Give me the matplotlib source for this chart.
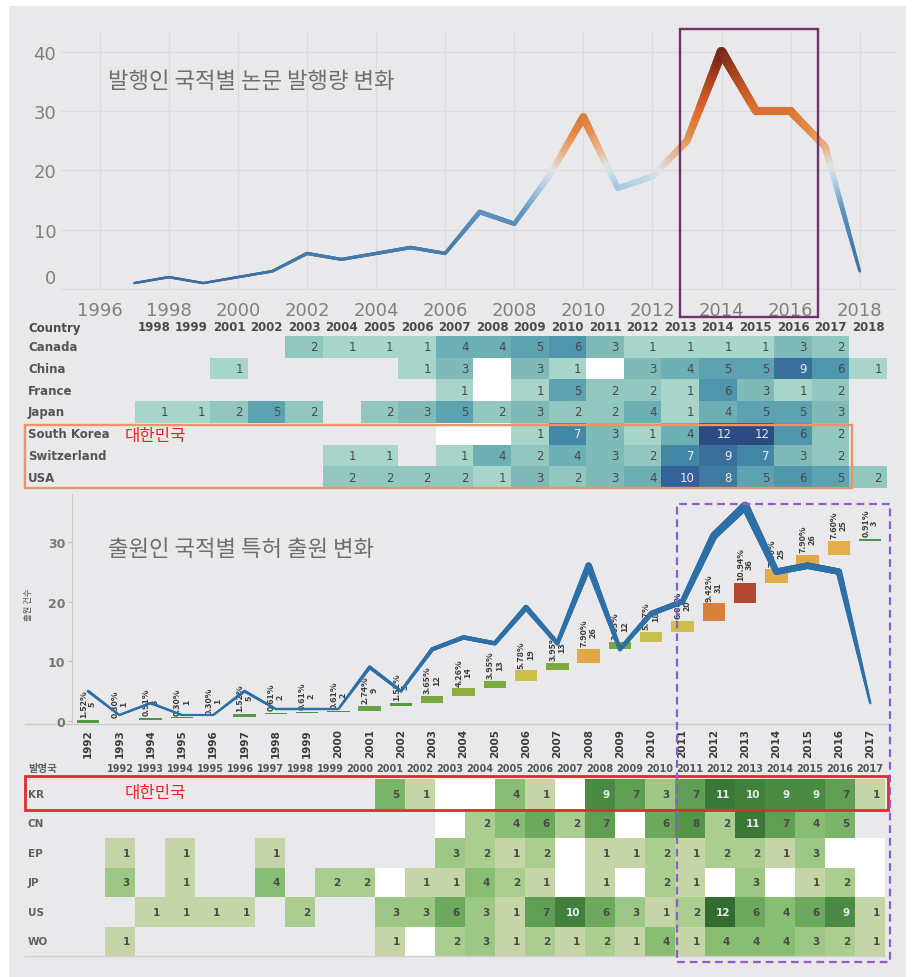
# Paper and patent output by country: two line charts with heatmaps

import numpy as np
import matplotlib
matplotlib.use('Agg')
import matplotlib.pyplot as plt
import matplotlib.transforms as mtransforms
from matplotlib.collections import LineCollection
from matplotlib.colors import LinearSegmentedColormap, Normalize
from matplotlib.patches import Rectangle

plt.rcParams['font.family'] = ['DejaVu Sans', 'Noto Sans CJK KR']
KR_FONT = ['Noto Sans CJK KR', 'DejaVu Sans']

# -------------------------------
# Data
# -------------------------------

# papers per year (publisher nationality)
paper_years = list(range(1997, 2019))
paper_counts = [1, 2, 1, 2, 3, 6, 5, 6, 7, 6, 13, 11, 19, 29, 17, 19, 25, 40, 30, 30, 24, 3]

# papers by country (None = no record, 0 = empty cell)
N = None
paper_cols = [1998, 1999] + list(range(2001, 2019))
paper_countries = ['Canada', 'China', 'France', 'Japan', 'South Korea', 'Switzerland', 'USA']
canada = [N, N, N, N, 2, 1, 1, 1, 4, 4, 5, 6, 3, 1, 1, 1, 1, 3, 2, N]
china = [N, N, 1, N, N, N, N, 1, 3, 0, 3, 1, 0, 3, 4, 5, 5, 9, 6, 1]
france = [N, N, N, N, N, N, N, N, 1, 0, 1, 5, 2, 2, 1, 6, 3, 1, 2, N]
japan = [1, 1, 2, 5, 2, N, 2, 3, 5, 2, 3, 2, 2, 4, 1, 4, 5, 5, 3, N]
south_korea = [N, N, N, N, N, N, N, N, 0, 0, 1, 7, 3, 1, 4, 12, 12, 6, 2, N]
switzerland = [N, N, N, N, N, 1, 1, N, 1, 4, 2, 4, 3, 2, 7, 9, 7, 3, 2, N]
usa = [N, N, N, N, N, 2, 2, 2, 2, 1, 3, 2, 3, 4, 10, 8, 5, 6, 5, 2]
paper_table = [canada, china, france, japan, south_korea, switzerland, usa]

# patent filings per year (applicant nationality)
patent_years = list(range(1992, 2018))
patent_counts = [5, 1, 3, 1, 1, 5, 2, 2, 2, 9, 5, 12, 14, 13, 19, 13, 26, 12, 18, 20,
                 31, 36, 25, 26, 25, 3]

# patents by filing office
patent_offices = ['KR', 'CN', 'EP', 'JP', 'US', 'WO']
kr = [N] * 9 + [5, 1, 0, 0, 4, 1, 0, 9, 7, 3, 7, 11, 10, 9, 9, 7, 1]
cn = [N] * 11 + [0, 2, 4, 6, 2, 7, 0, 6, 8, 2, 11, 7, 4, 5, N]
ep = [1, N, 1, N, N, 1, N, N, N, N, N, 3, 2, 1, 2, 0, 1, 1, 2, 1, 2, 2, 1, 3, 0, 0]
jp = [3, N, 1, N, N, 4, N, 2, 2, 0, 1, 1, 4, 2, 1, 0, 1, 0, 2, 1, 0, 3, 0, 1, 2, 0]
us = [N, 1, 1, 1, 1, N, 2, N, N, 3, 3, 6, 3, 1, 7, 10, 6, 3, 1, 2, 12, 6, 4, 6, 9, 1]
wo = [1, N, N, N, N, N, N, N, N, 1, 0, 2, 3, 1, 2, 1, 2, 1, 4, 1, 4, 4, 4, 3, 2, 1]
patent_table = [kr, cn, ep, jp, us, wo]

# -------------------------------
# Figure setup
# -------------------------------
W, H = 914, 978
BG = '#e9e9eb'
fig = plt.figure(figsize=(W / 100, H / 100), dpi=100)
fig.patch.set_facecolor('white')
fig.add_artist(Rectangle((9 / W, 0), 897 / W, 1 - 7 / H, transform=fig.transFigure,
                         facecolor=BG, edgecolor='none', zorder=-10))


def px_box(l, t, r, b):
    return [l / W, 1 - b / H, (r - l) / W, (b - t) / H]


def varying_line(ax, x, y, colors_of, widths_of, steps=40, zorder=3):
    # split the polyline into short pieces so colour and width can follow the value
    xs, ys = [], []
    for i in range(len(x) - 1):
        t = np.linspace(0, 1, steps, endpoint=False)
        xs.append(x[i] + (x[i + 1] - x[i]) * t)
        ys.append(y[i] + (y[i + 1] - y[i]) * t)
    xs.append([x[-1]])
    ys.append([y[-1]])
    xs, ys = np.concatenate(xs), np.concatenate(ys)
    pts = np.column_stack([xs, ys])
    segs = np.stack([pts[:-1], pts[1:]], axis=1)
    mid = (ys[:-1] + ys[1:]) / 2
    lc = LineCollection(segs, colors=colors_of(mid), linewidths=widths_of(mid),
                        capstyle='round', joinstyle='round', zorder=zorder)
    ax.add_collection(lc)


def to_array(table):
    return np.array([[np.nan if v is None else v for v in row] for row in table], dtype=float)


def draw_heatmap(ax, table, cmap, vmax, white_from, num_x, num_size, num_weight):
    arr = to_array(table)
    ax.pcolormesh(np.ma.masked_invalid(arr), cmap=cmap, vmin=0, vmax=vmax)
    nrows, ncols = arr.shape
    for r in range(nrows):
        for c in range(ncols):
            v = table[r][c]
            if v:
                ax.text(c + num_x, r + 0.5, str(v), ha='right', va='center',
                        fontsize=num_size, fontweight=num_weight,
                        color='#e4ecf0' if v >= white_from else '#4a4a4a')
    ax.set_xlim(0, ncols)
    ax.set_ylim(nrows, 0)
    ax.set_facecolor('none')
    for s in ax.spines.values():
        s.set_visible(False)
    ax.set_yticks([])


# -------------------------------
# Papers: line chart
# -------------------------------
ax1 = fig.add_axes(px_box(61, 33, 896, 291))
ax1.set_facecolor('none')
ax1.set_xlim(1994.88, 2019.05)
ax1.set_ylim(-0.17, 43.37)
ax1.set_xticks(range(1996, 2019, 2))
ax1.set_yticks([0, 10, 20, 30, 40], ['', '10', '20', '30', '40'])
ax1.grid(color='#dcdcde', lw=1)
ax1.set_axisbelow(True)
ax1.tick_params(length=0, labelsize=13, labelcolor='#808080')
ax1.tick_params(axis='x', pad=8)
ax1.tick_params(axis='y', pad=3.5)
ax1.annotate('0', xy=(0, 0), xycoords=ax1.get_yaxis_transform(), xytext=(-3.5, 8),
             textcoords='offset points', ha='right', va='center', fontsize=13, color='#808080')
for s in ax1.spines.values():
    s.set_visible(False)

paper_cmap = LinearSegmentedColormap.from_list('paper', [
    (0.0, '#3b6b98'), (0.2, '#4a7fae'), (0.33, '#5f95c0'), (0.45, '#b5d3e8'),
    (0.51, '#dfe6ea'), (0.58, '#e9b58c'), (0.66, '#e48e4a'), (0.78, '#d8672b'),
    (0.9, '#a8431f'), (1.0, '#78271a')])
paper_norm = Normalize(0, 40)
varying_line(ax1, paper_years, paper_counts,
             lambda v: paper_cmap(paper_norm(v)),
             lambda v: 1.6 + 0.14 * v)

ax1.add_patch(Rectangle((2012.8, -4.7), 4.0, 48.6, fill=False, ec='#6d3566', lw=1.7,
                        clip_on=False, zorder=5))
fig.text(108 / W, 1 - 82 / H, '발행인 국적별 논문 발행량 변화', fontsize=16,
         color='#6e6e6e', va='center', family=KR_FONT)

# -------------------------------
# Papers: country heatmap
# -------------------------------
teal = LinearSegmentedColormap.from_list('teal', [
    (0, '#ffffff'), (1 / 12, '#a6d4c8'), (2 / 12, '#92c7c0'), (3 / 12, '#7fbab9'),
    (4 / 12, '#6cafb5'), (5 / 12, '#5da2b0'), (6 / 12, '#4f95ab'), (7 / 12, '#4387a6'),
    (9 / 12, '#3a6f9b'), (10 / 12, '#35619a'), (1, '#2c4b83')])
axh1 = fig.add_axes(px_box(135, 337, 887, 489))
draw_heatmap(axh1, paper_table, teal, 12, 7, 0.87, 8.5, 'normal')
axh1.set_xticks(np.arange(len(paper_cols)) + 0.5, [str(y) for y in paper_cols],
                fontweight='bold')
axh1.xaxis.tick_top()
axh1.tick_params(length=0, pad=2.5, labelsize=8.5, labelcolor='#4a4a4a')
lab_x = (28 - 135) / 752
axh1.text(lab_x, -0.41, 'Country', transform=axh1.get_yaxis_transform(), ha='left',
          va='center', fontsize=8.5, fontweight='bold', color='#4a4a4a')
for i, name in enumerate(paper_countries):
    axh1.text(lab_x, i + 0.5, name, transform=axh1.get_yaxis_transform(), ha='left',
              va='center', fontsize=8.5, fontweight='bold', color='#555555')
axh1.add_patch(Rectangle((-2.93, 4.1), 22.0, 2.9, fill=False, ec='#e9946a', lw=1.7,
                         clip_on=False, zorder=5))
axh1.text(-0.27, 4.6, '대한민국', ha='left', va='center', fontsize=12, color='#ee2222',
          family=KR_FONT)

# -------------------------------
# Patents: line chart with cumulative share bars
# -------------------------------
axp = fig.add_axes(px_box(72.4, 495, 889, 725))
axb = axp.twinx()
idx = np.arange(len(patent_years))
axp.set_xlim(-0.5, 25.6)
axp.set_ylim(-0.5, 38.0)
axb.set_ylim(-1.8, 409.6)

total = sum(patent_counts)
pct = [c / total * 100 for c in patent_counts]
cum_after = np.cumsum(patent_counts)
cum_before = cum_after - np.array(patent_counts)
share_cmap = LinearSegmentedColormap.from_list('share', [
    (0.0, '#3f8f4a'), (0.36, '#7caa3e'), (0.51, '#cbc24a'), (0.7, '#e4ad47'),
    (0.855, '#d9823a'), (1.0, '#b3452f')])
share_norm = Normalize(0, 11)
axb.bar(idx, patent_counts, bottom=cum_before, width=0.72,
        color=[share_cmap(share_norm(p)) for p in pct], zorder=2)
for i in idx:
    axb.annotate(f'{pct[i]:.2f}%\n{patent_counts[i]}', xy=(i, cum_after[i]),
                 xytext=(0, 2), textcoords='offset points', rotation=90,
                 ha='center', va='bottom', fontsize=6.5, fontweight='bold',
                 color='#3a3a3a', linespacing=1.0, multialignment='center',
                 family=KR_FONT)
axb.set_yticks([])
for s in axb.spines.values():
    s.set_visible(False)

varying_line(axp, idx, patent_counts,
             lambda v: ['#2d6fa7'] * len(v),
             lambda v: 1.4 + 0.13 * v, zorder=4)
axp.set_zorder(axb.get_zorder() + 1)
axp.patch.set_visible(False)

axp.set_xticks(idx, [str(y) for y in patent_years], rotation=90, fontsize=7.5,
               fontweight='bold', color='#3a3a3a')
axp.tick_params(axis='x', length=0, pad=3)
axp.set_yticks([0, 10, 20, 30])
axp.tick_params(axis='y', length=3, color='#bbbbbb', pad=2, labelsize=9,
                labelcolor='#777777')
for lab in axp.get_yticklabels():
    lab.set_fontweight('bold')
axp.set_ylabel('출원 건수', fontsize=6, color='#555555', family=KR_FONT)
axp.yaxis.set_label_coords((33 - 72.4) / 816.6, (725 - 605) / 230)
for side in ['top', 'right', 'bottom']:
    axp.spines[side].set_visible(False)
axp.spines['left'].set_color('#cccccc')
axp.plot([-2.0, 25.6], [-0.5, -0.5], color='#c9c9c9', lw=1, clip_on=False, zorder=1)

fig.text(108 / W, 1 - 550 / H, '출원인 국적별 특허 출원 변화', fontsize=16,
         color='#6e6e6e', va='center', family=KR_FONT)

# -------------------------------
# Patents: filing office heatmap
# -------------------------------
green = LinearSegmentedColormap.from_list('green', [
    (0, '#ffffff'), (1 / 12, '#c4d4a6'), (2 / 12, '#aacd8f'), (3 / 12, '#9cc784'),
    (4 / 12, '#88be74'), (5 / 12, '#7ab468'), (6 / 12, '#6ca95c'), (7 / 12, '#609f53'),
    (8 / 12, '#559548'), (9 / 12, '#4a8a42'), (10 / 12, '#42803c'), (11 / 12, '#3b7737'),
    (1, '#336c31')])
axh2 = fig.add_axes(px_box(105, 780, 885, 957))
draw_heatmap(axh2, patent_table, green, 12, 9, 0.83, 7.5, 'bold')
axh2.set_xticks(idx + 0.5, [str(y) for y in patent_years], fontweight='bold')
axh2.xaxis.tick_top()
axh2.tick_params(length=0, pad=4, labelsize=7, labelcolor='#555555')
lab_x2 = (28 - 105) / 780
axh2.text(lab_x2, -0.37, '발명국', transform=axh2.get_yaxis_transform(), ha='left',
          va='center', fontsize=7.5, fontweight='bold', color='#606060', family=KR_FONT)
for i, name in enumerate(patent_offices):
    axh2.text(lab_x2, i + 0.5, name, transform=axh2.get_yaxis_transform(), ha='left',
              va='center', fontsize=7.5, fontweight='bold', color='#606060')
axh2.plot([-2.67, 26], [6, 6], color='#cfcfcf', lw=1, clip_on=False)
axh2.add_patch(Rectangle((-2.67, -0.1), 28.77, 1.15, fill=False, ec='#e12a2a', lw=2.0,
                         clip_on=False, zorder=5))
axh2.text(0.67, 0.45, '대한민국', ha='left', va='center', fontsize=12, color='#ee2222',
          family=KR_FONT)

# dashed box spanning the recent years in both patent panels
blend = mtransforms.blended_transform_factory(axh2.transData, fig.transFigure)
fig.add_artist(Rectangle((19.07, 1 - 963 / H), 7.1, 458 / H, transform=blend, fill=False,
                         ec='#8b5fc5', lw=1.6, ls=(0, (3.5, 2.2)), zorder=6))

plt.savefig('out.png', dpi=100)
